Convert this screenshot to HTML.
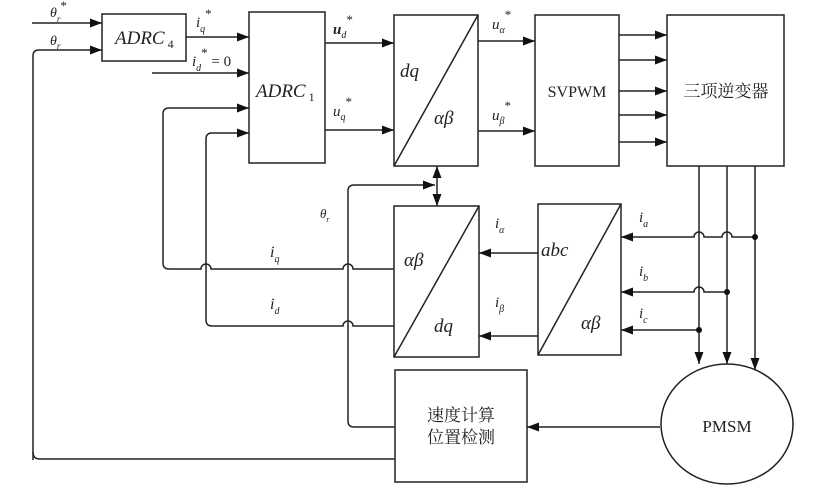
<!DOCTYPE html>
<html><head><meta charset="utf-8"><style>html,body{margin:0;padding:0;background:#fff}svg{display:block}
.t{font-family:"Liberation Serif",serif;font-style:italic;fill:#222}
.c{font-family:"Liberation Serif","Noto Serif CJK SC",serif;fill:#222}
</style></head><body>
<svg width="813" height="492" viewBox="0 0 813 492" xmlns="http://www.w3.org/2000/svg">
<defs><marker id="a" viewBox="0 0 12 10" refX="12" refY="5" markerWidth="12" markerHeight="10" markerUnits="userSpaceOnUse" orient="auto"><path d="M0,0.5 L12,5 L0,9.5 z" fill="#111"/></marker></defs>
<g stroke="#222" stroke-width="1.5" fill="none">
<rect x="102" y="14" width="84" height="47"/>
<rect x="249" y="12" width="76" height="151"/>
<rect x="394" y="15" width="84" height="151"/><line x1="394" y1="166" x2="478" y2="15"/>
<rect x="535" y="15" width="84" height="151"/>
<rect x="667" y="15" width="117" height="151"/>
<rect x="394" y="206" width="85" height="151"/><line x1="394" y1="357" x2="479" y2="206"/>
<rect x="538" y="204" width="83" height="151"/><line x1="538" y1="355" x2="621" y2="204"/>
<rect x="395" y="370" width="132" height="112"/>
<ellipse cx="727" cy="424" rx="66" ry="60"/>
<line x1="32" y1="23" x2="102" y2="23" marker-end="url(#a)"/>
<path d="M33,460 V56 Q33,50 39,50 H102" marker-end="url(#a)"/>
<path d="M33,452 Q33,459 40,459 H395"/>
<line x1="186" y1="37" x2="249" y2="37" marker-end="url(#a)"/>
<line x1="152" y1="73" x2="249" y2="73" marker-end="url(#a)"/>
<path d="M163,263 V114 Q163,108 169,108 H249" marker-end="url(#a)"/>
<path d="M206,320 V139 Q206,133 212,133 H249" marker-end="url(#a)"/>
<path d="M163,263 Q163,269 169,269 H201 A5,5 0 0 1 211,269 H343 A5,5 0 0 1 353,269 H394"/>
<path d="M206,320 Q206,326 212,326 H343 A5,5 0 0 1 353,326 H394"/>
<line x1="325" y1="43" x2="394" y2="43" marker-end="url(#a)"/>
<line x1="325" y1="130" x2="394" y2="130" marker-end="url(#a)"/>
<line x1="478" y1="41" x2="535" y2="41" marker-end="url(#a)"/>
<line x1="478" y1="131" x2="535" y2="131" marker-end="url(#a)"/>
<line x1="619" y1="35" x2="667" y2="35" marker-end="url(#a)"/>
<line x1="619" y1="60" x2="667" y2="60" marker-end="url(#a)"/>
<line x1="619" y1="91" x2="667" y2="91" marker-end="url(#a)"/>
<line x1="619" y1="115" x2="667" y2="115" marker-end="url(#a)"/>
<line x1="619" y1="142" x2="667" y2="142" marker-end="url(#a)"/>
<path d="M395,427 H354 Q348,427 348,421 V191 Q348,185 354,185 H435" marker-end="url(#a)"/>
<line x1="437" y1="186" x2="437" y2="166" marker-end="url(#a)"/>
<line x1="437" y1="186" x2="437" y2="206" marker-end="url(#a)"/>
<line x1="699" y1="166" x2="699" y2="364" marker-end="url(#a)"/>
<line x1="727" y1="166" x2="727" y2="364" marker-end="url(#a)"/>
<line x1="755" y1="166" x2="755" y2="370" marker-end="url(#a)"/>
<path d="M755,237 H732 A5,5 0 0 0 722,237 H704 A5,5 0 0 0 694,237 H621" marker-end="url(#a)"/>
<path d="M727,292 H704 A5,5 0 0 0 694,292 H621" marker-end="url(#a)"/>
<path d="M699,330 H621" marker-end="url(#a)"/>
<line x1="538" y1="253" x2="479" y2="253" marker-end="url(#a)"/>
<line x1="538" y1="336" x2="479" y2="336" marker-end="url(#a)"/>
<line x1="660" y1="427" x2="527" y2="427" marker-end="url(#a)"/>
</g>
<g fill="#111"><circle cx="755" cy="237" r="3"/><circle cx="727" cy="292" r="3"/><circle cx="699" cy="330" r="3"/></g>
<g class="t">
<text x="50" y="17" font-size="14">θ<tspan font-size="9" dy="5">r</tspan><tspan dy="-12" font-size="13" font-style="normal">*</tspan></text>
<text x="50" y="45" font-size="14">θ<tspan font-size="9" dy="4">r</tspan></text>
<text x="115" y="44" font-size="19">ADRC<tspan font-size="12" dy="4" font-style="normal"> 4</tspan></text>
<text x="196" y="27" font-size="15">i<tspan font-size="10" dy="5">q</tspan><tspan dy="-14" font-size="13" font-style="normal">*</tspan></text>
<text x="192" y="66" font-size="15">i<tspan font-size="10" dy="5">d</tspan><tspan dy="-14" font-size="13" font-style="normal">*</tspan><tspan dy="9" font-style="normal"> = 0</tspan></text>
<text x="256" y="97" font-size="19">ADRC<tspan font-size="12" dy="4" font-style="normal"> 1</tspan></text>
<text x="333" y="34" font-size="15" font-weight="bold">u<tspan font-size="10" dy="4" font-weight="normal">d</tspan><tspan dy="-14" font-size="13" font-style="normal" font-weight="normal">*</tspan></text>
<text x="333" y="116" font-size="15">u<tspan font-size="10" dy="4">q</tspan><tspan dy="-14" font-size="13" font-style="normal">*</tspan></text>
<text x="400" y="77" font-size="19">dq</text>
<text x="434" y="124" font-size="19">αβ</text>
<text x="492" y="29" font-size="15">u<tspan font-size="10" dy="4">α</tspan><tspan dy="-14" font-size="13" font-style="normal">*</tspan></text>
<text x="492" y="120" font-size="15">u<tspan font-size="10" dy="4">β</tspan><tspan dy="-14" font-size="13" font-style="normal">*</tspan></text>
<text x="320" y="218" font-size="13">θ<tspan font-size="8" dy="4">r</tspan></text>
<text x="270" y="257" font-size="16">i<tspan font-size="10" dy="5">q</tspan></text>
<text x="270" y="309" font-size="16">i<tspan font-size="10" dy="5">d</tspan></text>
<text x="404" y="266" font-size="19">αβ</text>
<text x="434" y="332" font-size="19">dq</text>
<text x="495" y="228" font-size="15">i<tspan font-size="10" dy="5">α</tspan></text>
<text x="495" y="307" font-size="15">i<tspan font-size="10" dy="5">β</tspan></text>
<text x="541" y="256" font-size="19">abc</text>
<text x="581" y="329" font-size="19">αβ</text>
<text x="639" y="222" font-size="15">i<tspan font-size="10" dy="5">a</tspan></text>
<text x="639" y="276" font-size="15">i<tspan font-size="10" dy="5">b</tspan></text>
<text x="639" y="318" font-size="15">i<tspan font-size="10" dy="5">c</tspan></text>
</g>
<g class="c">
<text x="577" y="97" font-size="16" text-anchor="middle">SVPWM</text>
<text x="726" y="97" font-size="17" text-anchor="middle">三项逆变器</text>
<text x="461" y="421" font-size="17" text-anchor="middle">速度计算</text>
<text x="461" y="443" font-size="17" text-anchor="middle">位置检测</text>
<text x="727" y="432" font-size="17" text-anchor="middle">PMSM</text>
</g>
</svg>
</body></html>
